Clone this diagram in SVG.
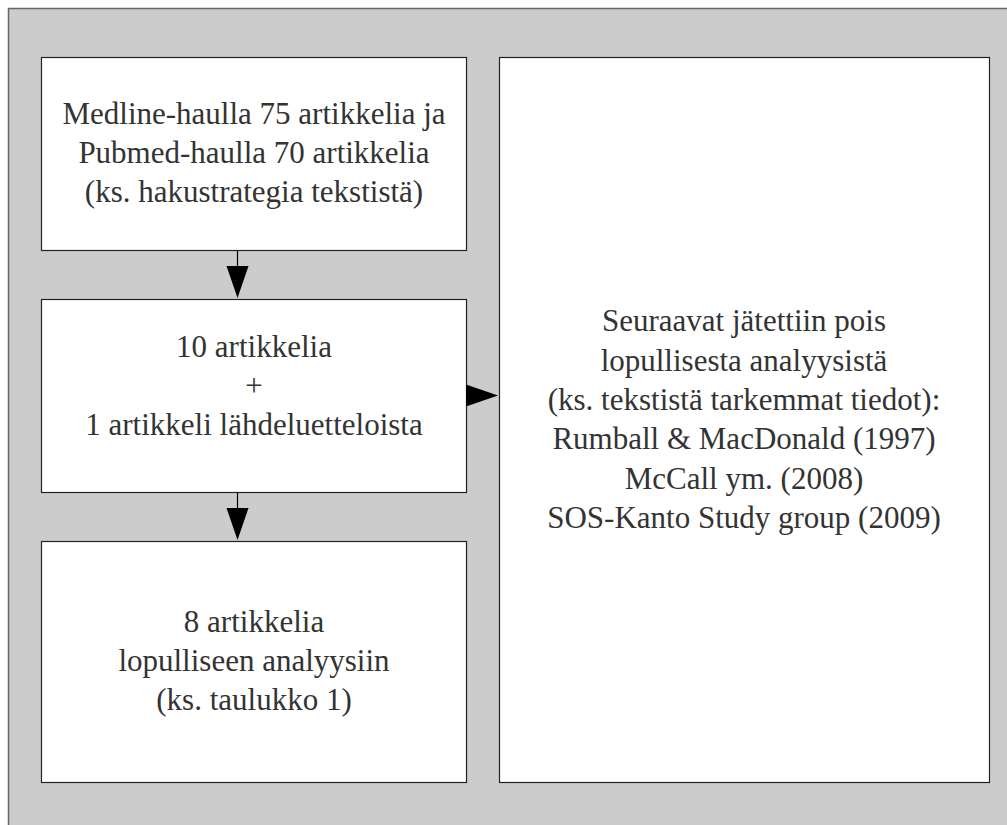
<svg xmlns="http://www.w3.org/2000/svg" width="1007" height="825" viewBox="0 0 1007 825">
<style>
.box{fill:#fff;stroke:#222;stroke-width:1.2}
.t{font-family:"Liberation Serif","Times New Roman",serif;font-size:31px;fill:#333;text-anchor:middle}
.arr{fill:#000}
.ln{stroke:#000;stroke-width:1.2;fill:none}
</style>
<rect x="0" y="0" width="1007" height="825" fill="#fff"/>
<rect x="8.5" y="8.5" width="1010" height="830" fill="#cccccc" stroke="#666" stroke-width="1.5"/>
<g id="node1">
<rect class="box" x="41.5" y="57.5" width="425" height="193"/>
<text class="t" x="254" y="123.5">Medline-haulla 75 artikkelia ja</text>
<text class="t" x="254" y="163">Pubmed-haulla 70 artikkelia</text>
<text class="t" x="254" y="202">(ks. hakustrategia tekstistä)</text>
</g>
<g id="node2">
<rect class="box" x="41.5" y="299.5" width="425" height="193"/>
<text class="t" x="254" y="357">10 artikkelia</text>
<text class="t" x="254" y="396">+</text>
<text class="t" x="254" y="435">1 artikkeli lähdeluetteloista</text>
</g>
<g id="node3">
<rect class="box" x="41.5" y="541.5" width="425" height="241"/>
<text class="t" x="254" y="631.5">8 artikkelia</text>
<text class="t" x="254" y="671">lopulliseen analyysiin</text>
<text class="t" x="254" y="710">(ks. taulukko 1)</text>
</g>
<g id="node4">
<rect class="box" x="499.5" y="57.5" width="490" height="725"/>
<text class="t" x="744" y="331">Seuraavat jätettiin pois</text>
<text class="t" x="744" y="370.5">lopullisesta analyysistä</text>
<text class="t" x="744" y="410">(ks. tekstistä tarkemmat tiedot):</text>
<text class="t" x="744" y="449">Rumball &amp; MacDonald (1997)</text>
<text class="t" x="744" y="488.5">McCall ym. (2008)</text>
<text class="t" x="744" y="528">SOS-Kanto Study group (2009)</text>
</g>
<g id="connectors">
<line class="ln" x1="237.5" y1="250.5" x2="237.5" y2="266"/>
<polygon class="arr" points="226.5,266 248.5,266 237.5,298"/>
<line class="ln" x1="237.5" y1="492.5" x2="237.5" y2="508"/>
<polygon class="arr" points="226.5,508 248.5,508 237.5,540"/>
<polygon class="arr" points="466,384.5 466,406.5 498,395.5"/>
</g>
</svg>
